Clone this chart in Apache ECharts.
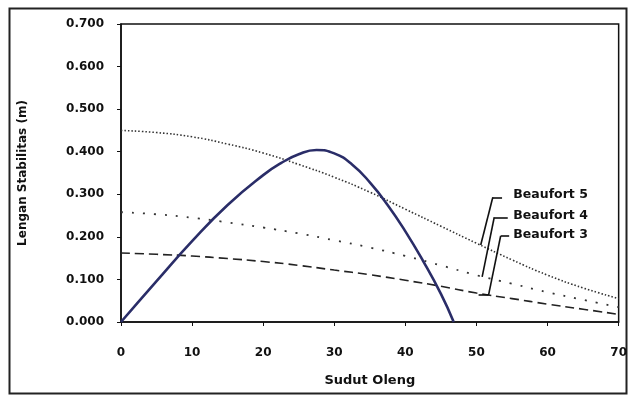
<!DOCTYPE html>
<html><head><meta charset="utf-8">
<script src="https://cdn.jsdelivr.net/npm/echarts@6/dist/echarts.min.js"></script>
<style>html,body{margin:0;padding:0;background:#fff}#c{width:630px;height:396px}</style>
</head><body><div id="c"></div>
<script>
const gzX = [0, 5, 10, 15, 20, 22.5, 25, 27.5, 30, 32.5, 35, 37.5, 40, 42.5, 45, 46.8];
const gzY = [0, 0.096, 0.19, 0.275, 0.345, 0.373, 0.394, 0.404, 0.396, 0.370, 0.328, 0.275, 0.213, 0.143, 0.066, 0];
const bfX = [0, 5, 10, 15, 20, 25, 30, 35, 40, 45, 50, 55, 60, 65, 70];
const bf5 = [0.450, 0.445, 0.435, 0.418, 0.397, 0.370, 0.340, 0.305, 0.265, 0.225, 0.185, 0.146, 0.110, 0.080, 0.055];
const bf4 = [0.258, 0.253, 0.245, 0.234, 0.222, 0.208, 0.192, 0.175, 0.155, 0.133, 0.110, 0.090, 0.070, 0.052, 0.035];
const bf3 = [0.162, 0.159, 0.155, 0.149, 0.142, 0.133, 0.122, 0.111, 0.098, 0.084, 0.068, 0.055, 0.042, 0.030, 0.018];
const yTicks = ['0.000','0.100','0.200','0.300','0.400','0.500','0.600','0.700'];

const pair = (xs, ys) => xs.map((x, i) => [x, ys[i]]);
const font = 'DejaVu Sans';
const lbl = (pts) => ({
  silent: true, symbol: 'none',
  lineStyle: {color: '#111', type: 'solid', width: 1.6},
  label: {show: false},
  data: pts.slice(0, -1).map((p, i) => [{coord: p}, {coord: pts[i + 1]}])
});
const mp = (name, c) => ({
  silent: true, symbol: 'circle', symbolSize: 0,
  data: [{coord: c, label: {show: true, position: 'right', distance: 2, formatter: name, color: '#111', fontWeight: 'bold', fontSize: 12.5, fontFamily: font}}]
});

const chart = echarts.init(document.getElementById('c'));
chart.setOption({
  animation: false,
  backgroundColor: '#fff',
  graphic: [{type: 'rect', left: 7, top: 6, shape: {width: 617, height: 385}, style: {fill: 'none', stroke: '#222', lineWidth: 2}}],
  grid: {left: 121, top: 24, right: 11, bottom: 74, show: true, borderColor: '#111', borderWidth: 1.5},
  xAxis: {
    type: 'value', min: 0, max: 70, interval: 10,
    name: 'Sudut Oleng', nameLocation: 'middle', nameGap: 52,
    nameTextStyle: {color: '#111', fontWeight: 'bold', fontSize: 13, fontFamily: font},
    axisLine: {lineStyle: {color: '#111', width: 1.5}},
    axisTick: {show: true, length: 4, lineStyle: {color: '#111'}},
    axisLabel: {color: '#111', fontWeight: 'bold', fontSize: 12, fontFamily: font, margin: 25},
    splitLine: {show: false}
  },
  yAxis: {
    type: 'value', min: 0, max: 0.7, interval: 0.1,
    name: 'Lengan Stabilitas (m)', nameLocation: 'middle', nameGap: 92, nameRotate: 90,
    nameTextStyle: {color: '#111', fontWeight: 'bold', fontSize: 12, fontFamily: font},
    axisLine: {show: true, lineStyle: {color: '#111', width: 1.5}},
    axisTick: {show: true, length: 4, lineStyle: {color: '#111'}},
    axisLabel: {color: '#111', fontWeight: 'bold', fontSize: 12, fontFamily: font, margin: 17,
      formatter: v => yTicks[Math.round(v * 10)]},
    splitLine: {show: false}
  },
  series: [
    {name: 'Beaufort 5', type: 'line', smooth: true, symbol: 'none', data: pair(bfX, bf5),
     lineStyle: {color: '#333', width: 1.6, type: [1.5, 2]},
     markLine: lbl([[50.6, 0.181], [52.3, 0.293], [53.6, 0.293]]),
     markPoint: mp('Beaufort 5', [54.9, 0.298])},
    {name: 'Beaufort 4', type: 'line', smooth: true, symbol: 'none', data: pair(bfX, bf4),
     lineStyle: {color: '#333', width: 1.8, type: [2, 9]},
     markLine: lbl([[50.8, 0.106], [52.5, 0.246], [54.4, 0.246]]),
     markPoint: mp('Beaufort 4', [54.9, 0.250])},
    {name: 'Beaufort 3', type: 'line', smooth: true, symbol: 'none', data: pair(bfX, bf3),
     lineStyle: {color: '#222', width: 1.6, type: [9, 5]},
     markLine: lbl([[50.3, 0.063], [51.7, 0.063], [53.4, 0.202], [54.6, 0.202]]),
     markPoint: mp('Beaufort 3', [54.9, 0.204])},
    {name: 'GZ', type: 'line', smooth: true, symbol: 'none', data: pair(gzX, gzY),
     lineStyle: {color: '#2a2d68', width: 2.6}}
  ]
});
</script></body></html>
